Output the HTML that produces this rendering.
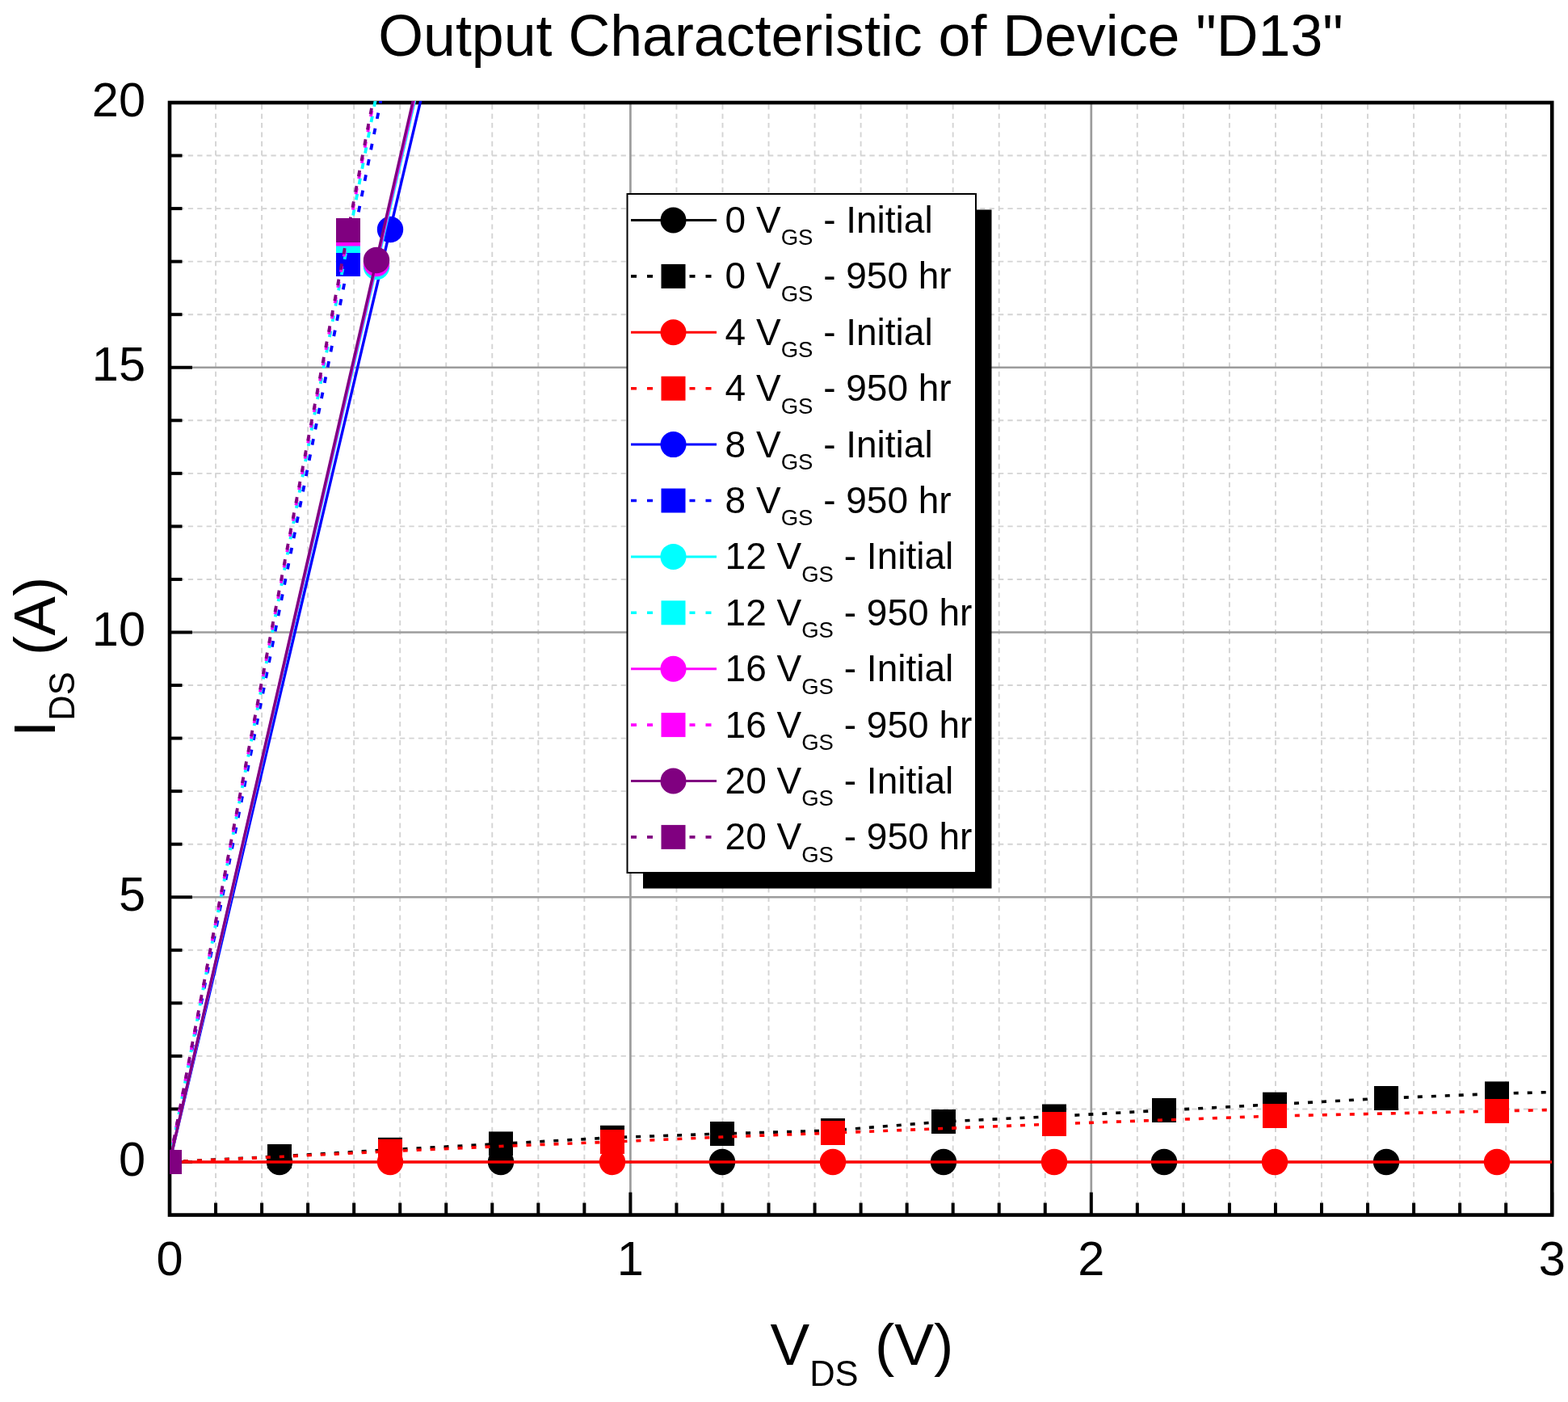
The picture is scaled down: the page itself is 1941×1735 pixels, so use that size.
<!DOCTYPE html>
<html><head><meta charset="utf-8"><title>Output Characteristic of Device "D13"</title>
<style>html,body{margin:0;padding:0;background:#fff;overflow:hidden;}svg{display:block;}text{font-family:"Liberation Sans", Arial, Helvetica, sans-serif;fill:#000;}</style>
</head><body>
<svg width="1941" height="1735" viewBox="0 0 1941 1735">
<rect x="0" y="0" width="1941" height="1735" fill="#fff"/>
<defs><clipPath id="pc"><rect x="210.00" y="125.00" width="1711.20" height="1378.55"/></clipPath></defs>
<g id="grid"><line x1="267.04" y1="1503.55" x2="267.04" y2="127.00" stroke="#d4d4d4" stroke-width="1.9" stroke-dasharray="6.3 5.1"/><line x1="324.08" y1="1503.55" x2="324.08" y2="127.00" stroke="#d4d4d4" stroke-width="1.9" stroke-dasharray="6.3 5.1"/><line x1="381.12" y1="1503.55" x2="381.12" y2="127.00" stroke="#d4d4d4" stroke-width="1.9" stroke-dasharray="6.3 5.1"/><line x1="438.16" y1="1503.55" x2="438.16" y2="127.00" stroke="#d4d4d4" stroke-width="1.9" stroke-dasharray="6.3 5.1"/><line x1="495.20" y1="1503.55" x2="495.20" y2="127.00" stroke="#d4d4d4" stroke-width="1.9" stroke-dasharray="6.3 5.1"/><line x1="552.24" y1="1503.55" x2="552.24" y2="127.00" stroke="#d4d4d4" stroke-width="1.9" stroke-dasharray="6.3 5.1"/><line x1="609.28" y1="1503.55" x2="609.28" y2="127.00" stroke="#d4d4d4" stroke-width="1.9" stroke-dasharray="6.3 5.1"/><line x1="666.32" y1="1503.55" x2="666.32" y2="127.00" stroke="#d4d4d4" stroke-width="1.9" stroke-dasharray="6.3 5.1"/><line x1="723.36" y1="1503.55" x2="723.36" y2="127.00" stroke="#d4d4d4" stroke-width="1.9" stroke-dasharray="6.3 5.1"/><line x1="837.44" y1="1503.55" x2="837.44" y2="127.00" stroke="#d4d4d4" stroke-width="1.9" stroke-dasharray="6.3 5.1"/><line x1="894.48" y1="1503.55" x2="894.48" y2="127.00" stroke="#d4d4d4" stroke-width="1.9" stroke-dasharray="6.3 5.1"/><line x1="951.52" y1="1503.55" x2="951.52" y2="127.00" stroke="#d4d4d4" stroke-width="1.9" stroke-dasharray="6.3 5.1"/><line x1="1008.56" y1="1503.55" x2="1008.56" y2="127.00" stroke="#d4d4d4" stroke-width="1.9" stroke-dasharray="6.3 5.1"/><line x1="1065.60" y1="1503.55" x2="1065.60" y2="127.00" stroke="#d4d4d4" stroke-width="1.9" stroke-dasharray="6.3 5.1"/><line x1="1122.64" y1="1503.55" x2="1122.64" y2="127.00" stroke="#d4d4d4" stroke-width="1.9" stroke-dasharray="6.3 5.1"/><line x1="1179.68" y1="1503.55" x2="1179.68" y2="127.00" stroke="#d4d4d4" stroke-width="1.9" stroke-dasharray="6.3 5.1"/><line x1="1236.72" y1="1503.55" x2="1236.72" y2="127.00" stroke="#d4d4d4" stroke-width="1.9" stroke-dasharray="6.3 5.1"/><line x1="1293.76" y1="1503.55" x2="1293.76" y2="127.00" stroke="#d4d4d4" stroke-width="1.9" stroke-dasharray="6.3 5.1"/><line x1="1407.84" y1="1503.55" x2="1407.84" y2="127.00" stroke="#d4d4d4" stroke-width="1.9" stroke-dasharray="6.3 5.1"/><line x1="1464.88" y1="1503.55" x2="1464.88" y2="127.00" stroke="#d4d4d4" stroke-width="1.9" stroke-dasharray="6.3 5.1"/><line x1="1521.92" y1="1503.55" x2="1521.92" y2="127.00" stroke="#d4d4d4" stroke-width="1.9" stroke-dasharray="6.3 5.1"/><line x1="1578.96" y1="1503.55" x2="1578.96" y2="127.00" stroke="#d4d4d4" stroke-width="1.9" stroke-dasharray="6.3 5.1"/><line x1="1636.00" y1="1503.55" x2="1636.00" y2="127.00" stroke="#d4d4d4" stroke-width="1.9" stroke-dasharray="6.3 5.1"/><line x1="1693.04" y1="1503.55" x2="1693.04" y2="127.00" stroke="#d4d4d4" stroke-width="1.9" stroke-dasharray="6.3 5.1"/><line x1="1750.08" y1="1503.55" x2="1750.08" y2="127.00" stroke="#d4d4d4" stroke-width="1.9" stroke-dasharray="6.3 5.1"/><line x1="1807.12" y1="1503.55" x2="1807.12" y2="127.00" stroke="#d4d4d4" stroke-width="1.9" stroke-dasharray="6.3 5.1"/><line x1="1864.16" y1="1503.55" x2="1864.16" y2="127.00" stroke="#d4d4d4" stroke-width="1.9" stroke-dasharray="6.3 5.1"/><line x1="210.00" y1="1372.45" x2="1921.20" y2="1372.45" stroke="#d4d4d4" stroke-width="1.9" stroke-dasharray="6.3 5.1"/><line x1="210.00" y1="1306.90" x2="1921.20" y2="1306.90" stroke="#d4d4d4" stroke-width="1.9" stroke-dasharray="6.3 5.1"/><line x1="210.00" y1="1241.35" x2="1921.20" y2="1241.35" stroke="#d4d4d4" stroke-width="1.9" stroke-dasharray="6.3 5.1"/><line x1="210.00" y1="1175.80" x2="1921.20" y2="1175.80" stroke="#d4d4d4" stroke-width="1.9" stroke-dasharray="6.3 5.1"/><line x1="210.00" y1="1044.70" x2="1921.20" y2="1044.70" stroke="#d4d4d4" stroke-width="1.9" stroke-dasharray="6.3 5.1"/><line x1="210.00" y1="979.15" x2="1921.20" y2="979.15" stroke="#d4d4d4" stroke-width="1.9" stroke-dasharray="6.3 5.1"/><line x1="210.00" y1="913.60" x2="1921.20" y2="913.60" stroke="#d4d4d4" stroke-width="1.9" stroke-dasharray="6.3 5.1"/><line x1="210.00" y1="848.05" x2="1921.20" y2="848.05" stroke="#d4d4d4" stroke-width="1.9" stroke-dasharray="6.3 5.1"/><line x1="210.00" y1="716.95" x2="1921.20" y2="716.95" stroke="#d4d4d4" stroke-width="1.9" stroke-dasharray="6.3 5.1"/><line x1="210.00" y1="651.40" x2="1921.20" y2="651.40" stroke="#d4d4d4" stroke-width="1.9" stroke-dasharray="6.3 5.1"/><line x1="210.00" y1="585.85" x2="1921.20" y2="585.85" stroke="#d4d4d4" stroke-width="1.9" stroke-dasharray="6.3 5.1"/><line x1="210.00" y1="520.30" x2="1921.20" y2="520.30" stroke="#d4d4d4" stroke-width="1.9" stroke-dasharray="6.3 5.1"/><line x1="210.00" y1="389.20" x2="1921.20" y2="389.20" stroke="#d4d4d4" stroke-width="1.9" stroke-dasharray="6.3 5.1"/><line x1="210.00" y1="323.65" x2="1921.20" y2="323.65" stroke="#d4d4d4" stroke-width="1.9" stroke-dasharray="6.3 5.1"/><line x1="210.00" y1="258.10" x2="1921.20" y2="258.10" stroke="#d4d4d4" stroke-width="1.9" stroke-dasharray="6.3 5.1"/><line x1="210.00" y1="192.55" x2="1921.20" y2="192.55" stroke="#d4d4d4" stroke-width="1.9" stroke-dasharray="6.3 5.1"/><line x1="780.40" y1="1503.55" x2="780.40" y2="127.00" stroke="#9c9c9c" stroke-width="2.7"/><line x1="1350.80" y1="1503.55" x2="1350.80" y2="127.00" stroke="#9c9c9c" stroke-width="2.7"/><line x1="210.00" y1="1110.25" x2="1921.20" y2="1110.25" stroke="#9c9c9c" stroke-width="2.7"/><line x1="210.00" y1="782.50" x2="1921.20" y2="782.50" stroke="#9c9c9c" stroke-width="2.7"/><line x1="210.00" y1="454.75" x2="1921.20" y2="454.75" stroke="#9c9c9c" stroke-width="2.7"/></g>
<g id="ticks"><line x1="210.00" y1="1438.00" x2="238.00" y2="1438.00" stroke="#000" stroke-width="4"/><line x1="210.00" y1="1372.45" x2="225.50" y2="1372.45" stroke="#000" stroke-width="4"/><line x1="210.00" y1="1306.90" x2="225.50" y2="1306.90" stroke="#000" stroke-width="4"/><line x1="210.00" y1="1241.35" x2="225.50" y2="1241.35" stroke="#000" stroke-width="4"/><line x1="210.00" y1="1175.80" x2="225.50" y2="1175.80" stroke="#000" stroke-width="4"/><line x1="210.00" y1="1110.25" x2="238.00" y2="1110.25" stroke="#000" stroke-width="4"/><line x1="210.00" y1="1044.70" x2="225.50" y2="1044.70" stroke="#000" stroke-width="4"/><line x1="210.00" y1="979.15" x2="225.50" y2="979.15" stroke="#000" stroke-width="4"/><line x1="210.00" y1="913.60" x2="225.50" y2="913.60" stroke="#000" stroke-width="4"/><line x1="210.00" y1="848.05" x2="225.50" y2="848.05" stroke="#000" stroke-width="4"/><line x1="210.00" y1="782.50" x2="238.00" y2="782.50" stroke="#000" stroke-width="4"/><line x1="210.00" y1="716.95" x2="225.50" y2="716.95" stroke="#000" stroke-width="4"/><line x1="210.00" y1="651.40" x2="225.50" y2="651.40" stroke="#000" stroke-width="4"/><line x1="210.00" y1="585.85" x2="225.50" y2="585.85" stroke="#000" stroke-width="4"/><line x1="210.00" y1="520.30" x2="225.50" y2="520.30" stroke="#000" stroke-width="4"/><line x1="210.00" y1="454.75" x2="238.00" y2="454.75" stroke="#000" stroke-width="4"/><line x1="210.00" y1="389.20" x2="225.50" y2="389.20" stroke="#000" stroke-width="4"/><line x1="210.00" y1="323.65" x2="225.50" y2="323.65" stroke="#000" stroke-width="4"/><line x1="210.00" y1="258.10" x2="225.50" y2="258.10" stroke="#000" stroke-width="4"/><line x1="210.00" y1="192.55" x2="225.50" y2="192.55" stroke="#000" stroke-width="4"/><line x1="210.00" y1="127.00" x2="238.00" y2="127.00" stroke="#000" stroke-width="4"/><line x1="210.00" y1="1503.55" x2="210.00" y2="1475.55" stroke="#000" stroke-width="4"/><line x1="267.04" y1="1503.55" x2="267.04" y2="1488.55" stroke="#000" stroke-width="4"/><line x1="324.08" y1="1503.55" x2="324.08" y2="1488.55" stroke="#000" stroke-width="4"/><line x1="381.12" y1="1503.55" x2="381.12" y2="1488.55" stroke="#000" stroke-width="4"/><line x1="438.16" y1="1503.55" x2="438.16" y2="1488.55" stroke="#000" stroke-width="4"/><line x1="495.20" y1="1503.55" x2="495.20" y2="1488.55" stroke="#000" stroke-width="4"/><line x1="552.24" y1="1503.55" x2="552.24" y2="1488.55" stroke="#000" stroke-width="4"/><line x1="609.28" y1="1503.55" x2="609.28" y2="1488.55" stroke="#000" stroke-width="4"/><line x1="666.32" y1="1503.55" x2="666.32" y2="1488.55" stroke="#000" stroke-width="4"/><line x1="723.36" y1="1503.55" x2="723.36" y2="1488.55" stroke="#000" stroke-width="4"/><line x1="780.40" y1="1503.55" x2="780.40" y2="1475.55" stroke="#000" stroke-width="4"/><line x1="837.44" y1="1503.55" x2="837.44" y2="1488.55" stroke="#000" stroke-width="4"/><line x1="894.48" y1="1503.55" x2="894.48" y2="1488.55" stroke="#000" stroke-width="4"/><line x1="951.52" y1="1503.55" x2="951.52" y2="1488.55" stroke="#000" stroke-width="4"/><line x1="1008.56" y1="1503.55" x2="1008.56" y2="1488.55" stroke="#000" stroke-width="4"/><line x1="1065.60" y1="1503.55" x2="1065.60" y2="1488.55" stroke="#000" stroke-width="4"/><line x1="1122.64" y1="1503.55" x2="1122.64" y2="1488.55" stroke="#000" stroke-width="4"/><line x1="1179.68" y1="1503.55" x2="1179.68" y2="1488.55" stroke="#000" stroke-width="4"/><line x1="1236.72" y1="1503.55" x2="1236.72" y2="1488.55" stroke="#000" stroke-width="4"/><line x1="1293.76" y1="1503.55" x2="1293.76" y2="1488.55" stroke="#000" stroke-width="4"/><line x1="1350.80" y1="1503.55" x2="1350.80" y2="1475.55" stroke="#000" stroke-width="4"/><line x1="1407.84" y1="1503.55" x2="1407.84" y2="1488.55" stroke="#000" stroke-width="4"/><line x1="1464.88" y1="1503.55" x2="1464.88" y2="1488.55" stroke="#000" stroke-width="4"/><line x1="1521.92" y1="1503.55" x2="1521.92" y2="1488.55" stroke="#000" stroke-width="4"/><line x1="1578.96" y1="1503.55" x2="1578.96" y2="1488.55" stroke="#000" stroke-width="4"/><line x1="1636.00" y1="1503.55" x2="1636.00" y2="1488.55" stroke="#000" stroke-width="4"/><line x1="1693.04" y1="1503.55" x2="1693.04" y2="1488.55" stroke="#000" stroke-width="4"/><line x1="1750.08" y1="1503.55" x2="1750.08" y2="1488.55" stroke="#000" stroke-width="4"/><line x1="1807.12" y1="1503.55" x2="1807.12" y2="1488.55" stroke="#000" stroke-width="4"/><line x1="1864.16" y1="1503.55" x2="1864.16" y2="1488.55" stroke="#000" stroke-width="4"/><line x1="1921.20" y1="1503.55" x2="1921.20" y2="1475.55" stroke="#000" stroke-width="4"/></g>
<rect x="210.00" y="127.00" width="1711.20" height="1376.55" fill="none" stroke="#000" stroke-width="4.6"/>
<g id="data" clip-path="url(#pc)"><line x1="210.00" y1="1438.00" x2="1921.20" y2="1438.00" stroke="#000000" stroke-width="2.4"/><circle cx="346.00" cy="1438.00" r="16.20" fill="#000000"/><circle cx="620.00" cy="1438.00" r="16.20" fill="#000000"/><circle cx="894.00" cy="1438.00" r="16.20" fill="#000000"/><circle cx="1168.00" cy="1438.00" r="16.20" fill="#000000"/><circle cx="1441.00" cy="1438.00" r="16.20" fill="#000000"/><circle cx="1716.00" cy="1438.00" r="16.20" fill="#000000"/><polyline points="210.00,1438.00 346.00,1431.00 483.00,1422.80 620.00,1415.40 758.00,1407.80 894.00,1403.00 1031.00,1399.00 1168.00,1388.00 1305.00,1381.50 1441.00,1374.00 1578.00,1366.70 1716.00,1359.00 1853.00,1353.40 1921.20,1351.50" fill="none" stroke="#000000" stroke-width="3.6" stroke-dasharray="6 11"/><rect x="195.00" y="1423.00" width="30.00" height="30.00" fill="#000000"/><rect x="331.00" y="1416.00" width="30.00" height="30.00" fill="#000000"/><rect x="468.00" y="1407.80" width="30.00" height="30.00" fill="#000000"/><rect x="605.00" y="1400.40" width="30.00" height="30.00" fill="#000000"/><rect x="743.00" y="1392.80" width="30.00" height="30.00" fill="#000000"/><rect x="879.00" y="1388.00" width="30.00" height="30.00" fill="#000000"/><rect x="1016.00" y="1384.00" width="30.00" height="30.00" fill="#000000"/><rect x="1153.00" y="1373.00" width="30.00" height="30.00" fill="#000000"/><rect x="1290.00" y="1366.50" width="30.00" height="30.00" fill="#000000"/><rect x="1426.00" y="1359.00" width="30.00" height="30.00" fill="#000000"/><rect x="1563.00" y="1351.70" width="30.00" height="30.00" fill="#000000"/><rect x="1701.00" y="1344.00" width="30.00" height="30.00" fill="#000000"/><rect x="1838.00" y="1338.40" width="30.00" height="30.00" fill="#000000"/><line x1="210.00" y1="1438.00" x2="1921.20" y2="1438.00" stroke="#ff0000" stroke-width="3.4"/><circle cx="483.00" cy="1438.00" r="16.20" fill="#ff0000"/><circle cx="758.00" cy="1438.00" r="16.20" fill="#ff0000"/><circle cx="1031.00" cy="1438.00" r="16.20" fill="#ff0000"/><circle cx="1305.00" cy="1438.00" r="16.20" fill="#ff0000"/><circle cx="1578.00" cy="1438.00" r="16.20" fill="#ff0000"/><circle cx="1853.00" cy="1438.00" r="16.20" fill="#ff0000"/><polyline points="210.00,1438.00 346.00,1431.50 483.00,1424.70 620.00,1418.50 758.00,1413.00 894.00,1407.00 1031.00,1402.00 1168.00,1396.50 1305.00,1391.00 1441.00,1386.00 1578.00,1381.00 1716.00,1378.00 1853.00,1375.00 1921.20,1373.50" fill="none" stroke="#ff0000" stroke-width="3.6" stroke-dasharray="6 11"/><rect x="195.00" y="1423.00" width="30.00" height="30.00" fill="#ff0000"/><rect x="468.00" y="1409.70" width="30.00" height="30.00" fill="#ff0000"/><rect x="743.00" y="1398.00" width="30.00" height="30.00" fill="#ff0000"/><rect x="1016.00" y="1387.00" width="30.00" height="30.00" fill="#ff0000"/><rect x="1290.00" y="1376.00" width="30.00" height="30.00" fill="#ff0000"/><rect x="1563.00" y="1366.00" width="30.00" height="30.00" fill="#ff0000"/><rect x="1838.00" y="1360.00" width="30.00" height="30.00" fill="#ff0000"/><polyline points="210.00,1438.00 483.00,284.00 521.09,123.00" fill="none" stroke="#0000ff" stroke-width="3.4"/><circle cx="483.00" cy="284.00" r="16.20" fill="#0000ff"/><polyline points="210.00,1438.00 431.00,327.00" fill="none" stroke="#0000ff" stroke-width="3.8" stroke-dasharray="7.6 12" stroke-dashoffset="16.50"/><polyline points="431.00,327.00 471.58,123.00" fill="none" stroke="#0000ff" stroke-width="3.8" stroke-dasharray="7.6 12" stroke-dashoffset="1149.27"/><rect x="195.00" y="1423.00" width="30.00" height="30.00" fill="#0000ff"/><rect x="416.00" y="312.00" width="30.00" height="30.00" fill="#0000ff"/><polyline points="210.00,1438.00 466.00,330.00 513.83,123.00" fill="none" stroke="#00ffff" stroke-width="3.4"/><circle cx="466.00" cy="330.00" r="16.20" fill="#00ffff"/><polyline points="210.00,1438.00 431.00,298.00" fill="none" stroke="#00ffff" stroke-width="3.8" stroke-dasharray="7.6 12" stroke-dashoffset="18.50"/><polyline points="431.00,298.00 464.93,123.00" fill="none" stroke="#00ffff" stroke-width="3.8" stroke-dasharray="7.6 12" stroke-dashoffset="1183.22"/><rect x="195.00" y="1423.00" width="30.00" height="30.00" fill="#00ffff"/><rect x="416.00" y="283.00" width="30.00" height="30.00" fill="#00ffff"/><polyline points="210.00,1438.00 466.00,326.00 512.73,123.00" fill="none" stroke="#ff00ff" stroke-width="3.4"/><circle cx="466.00" cy="326.00" r="16.20" fill="#ff00ff"/><polyline points="210.00,1438.00 431.00,289.50" fill="none" stroke="#ff00ff" stroke-width="3.8" stroke-dasharray="7.6 12" stroke-dashoffset="15.30"/><polyline points="431.00,289.50 463.04,123.00" fill="none" stroke="#ff00ff" stroke-width="3.8" stroke-dasharray="7.6 12" stroke-dashoffset="1184.87"/><rect x="195.00" y="1423.00" width="30.00" height="30.00" fill="#ff00ff"/><rect x="416.00" y="274.50" width="30.00" height="30.00" fill="#ff00ff"/><polyline points="210.00,1438.00 466.00,322.00 511.65,123.00" fill="none" stroke="#800080" stroke-width="3.4"/><circle cx="466.00" cy="322.00" r="16.20" fill="#800080"/><polyline points="210.00,1438.00 431.00,285.00" fill="none" stroke="#800080" stroke-width="3.8" stroke-dasharray="7.6 12" stroke-dashoffset="12.50"/><polyline points="431.00,285.00 462.05,123.00" fill="none" stroke="#800080" stroke-width="3.8" stroke-dasharray="7.6 12" stroke-dashoffset="1186.49"/><rect x="195.00" y="1423.00" width="30.00" height="30.00" fill="#800080"/><rect x="416.00" y="270.00" width="30.00" height="30.00" fill="#800080"/></g>
<text x="180" y="1454.50" text-anchor="end" font-size="59.5">0</text>
<text x="180" y="1126.75" text-anchor="end" font-size="59.5">5</text>
<text x="180" y="799.00" text-anchor="end" font-size="59.5">10</text>
<text x="180" y="471.25" text-anchor="end" font-size="59.5">15</text>
<text x="180" y="143.50" text-anchor="end" font-size="59.5">20</text>
<text x="210.00" y="1577.5" text-anchor="middle" font-size="59.5">0</text>
<text x="780.40" y="1577.5" text-anchor="middle" font-size="59.5">1</text>
<text x="1350.80" y="1577.5" text-anchor="middle" font-size="59.5">2</text>
<text x="1921.20" y="1577.5" text-anchor="middle" font-size="59.5">3</text>
<text x="468.3" y="68.5" font-size="71.7">Output Characteristic of Device "D13"</text>
<text x="953.5" y="1689" font-size="73">V<tspan font-size="43.5" dy="26">DS</tspan><tspan dy="-26"> (V)</tspan></text>
<text transform="translate(67.7 912) rotate(-90)" x="0" y="0" font-size="73">I<tspan font-size="43.5" dy="24">DS</tspan><tspan dy="-24"> (A)</tspan></text>
<rect x="796.00" y="259.50" width="431.50" height="840.00" fill="#000"/>
<rect x="776.50" y="240.00" width="431.50" height="840.00" fill="#fff" stroke="#000" stroke-width="2"/>
<line x1="781" y1="272.50" x2="887" y2="272.50" stroke="#000000" stroke-width="3"/>
<circle cx="833.5" cy="272.50" r="16" fill="#000000"/>
<text x="897.6" y="288.00" font-size="46">0 V<tspan font-size="27.5" dy="15.3">GS</tspan><tspan dy="-15.3"> - Initial</tspan></text>
<line x1="781" y1="341.90" x2="818" y2="341.90" stroke="#000000" stroke-width="3.6" stroke-dasharray="7 13"/>
<line x1="853.5" y1="341.90" x2="887" y2="341.90" stroke="#000000" stroke-width="3.6" stroke-dasharray="7 13"/>
<rect x="818.5" y="326.90" width="30" height="30" fill="#000000"/>
<text x="897.6" y="357.40" font-size="46">0 V<tspan font-size="27.5" dy="15.3">GS</tspan><tspan dy="-15.3"> - 950 hr</tspan></text>
<line x1="781" y1="411.30" x2="887" y2="411.30" stroke="#ff0000" stroke-width="3"/>
<circle cx="833.5" cy="411.30" r="16" fill="#ff0000"/>
<text x="897.6" y="426.80" font-size="46">4 V<tspan font-size="27.5" dy="15.3">GS</tspan><tspan dy="-15.3"> - Initial</tspan></text>
<line x1="781" y1="480.70" x2="818" y2="480.70" stroke="#ff0000" stroke-width="3.6" stroke-dasharray="7 13"/>
<line x1="853.5" y1="480.70" x2="887" y2="480.70" stroke="#ff0000" stroke-width="3.6" stroke-dasharray="7 13"/>
<rect x="818.5" y="465.70" width="30" height="30" fill="#ff0000"/>
<text x="897.6" y="496.20" font-size="46">4 V<tspan font-size="27.5" dy="15.3">GS</tspan><tspan dy="-15.3"> - 950 hr</tspan></text>
<line x1="781" y1="550.10" x2="887" y2="550.10" stroke="#0000ff" stroke-width="3"/>
<circle cx="833.5" cy="550.10" r="16" fill="#0000ff"/>
<text x="897.6" y="565.60" font-size="46">8 V<tspan font-size="27.5" dy="15.3">GS</tspan><tspan dy="-15.3"> - Initial</tspan></text>
<line x1="781" y1="619.50" x2="818" y2="619.50" stroke="#0000ff" stroke-width="3.6" stroke-dasharray="7 13"/>
<line x1="853.5" y1="619.50" x2="887" y2="619.50" stroke="#0000ff" stroke-width="3.6" stroke-dasharray="7 13"/>
<rect x="818.5" y="604.50" width="30" height="30" fill="#0000ff"/>
<text x="897.6" y="635.00" font-size="46">8 V<tspan font-size="27.5" dy="15.3">GS</tspan><tspan dy="-15.3"> - 950 hr</tspan></text>
<line x1="781" y1="688.90" x2="887" y2="688.90" stroke="#00ffff" stroke-width="3"/>
<circle cx="833.5" cy="688.90" r="16" fill="#00ffff"/>
<text x="897.6" y="704.40" font-size="46">12 V<tspan font-size="27.5" dy="15.3">GS</tspan><tspan dy="-15.3"> - Initial</tspan></text>
<line x1="781" y1="758.30" x2="818" y2="758.30" stroke="#00ffff" stroke-width="3.6" stroke-dasharray="7 13"/>
<line x1="853.5" y1="758.30" x2="887" y2="758.30" stroke="#00ffff" stroke-width="3.6" stroke-dasharray="7 13"/>
<rect x="818.5" y="743.30" width="30" height="30" fill="#00ffff"/>
<text x="897.6" y="773.80" font-size="46">12 V<tspan font-size="27.5" dy="15.3">GS</tspan><tspan dy="-15.3"> - 950 hr</tspan></text>
<line x1="781" y1="827.70" x2="887" y2="827.70" stroke="#ff00ff" stroke-width="3"/>
<circle cx="833.5" cy="827.70" r="16" fill="#ff00ff"/>
<text x="897.6" y="843.20" font-size="46">16 V<tspan font-size="27.5" dy="15.3">GS</tspan><tspan dy="-15.3"> - Initial</tspan></text>
<line x1="781" y1="897.10" x2="818" y2="897.10" stroke="#ff00ff" stroke-width="3.6" stroke-dasharray="7 13"/>
<line x1="853.5" y1="897.10" x2="887" y2="897.10" stroke="#ff00ff" stroke-width="3.6" stroke-dasharray="7 13"/>
<rect x="818.5" y="882.10" width="30" height="30" fill="#ff00ff"/>
<text x="897.6" y="912.60" font-size="46">16 V<tspan font-size="27.5" dy="15.3">GS</tspan><tspan dy="-15.3"> - 950 hr</tspan></text>
<line x1="781" y1="966.50" x2="887" y2="966.50" stroke="#800080" stroke-width="3"/>
<circle cx="833.5" cy="966.50" r="16" fill="#800080"/>
<text x="897.6" y="982.00" font-size="46">20 V<tspan font-size="27.5" dy="15.3">GS</tspan><tspan dy="-15.3"> - Initial</tspan></text>
<line x1="781" y1="1035.90" x2="818" y2="1035.90" stroke="#800080" stroke-width="3.6" stroke-dasharray="7 13"/>
<line x1="853.5" y1="1035.90" x2="887" y2="1035.90" stroke="#800080" stroke-width="3.6" stroke-dasharray="7 13"/>
<rect x="818.5" y="1020.90" width="30" height="30" fill="#800080"/>
<text x="897.6" y="1051.40" font-size="46">20 V<tspan font-size="27.5" dy="15.3">GS</tspan><tspan dy="-15.3"> - 950 hr</tspan></text>
</svg>
</body></html>
